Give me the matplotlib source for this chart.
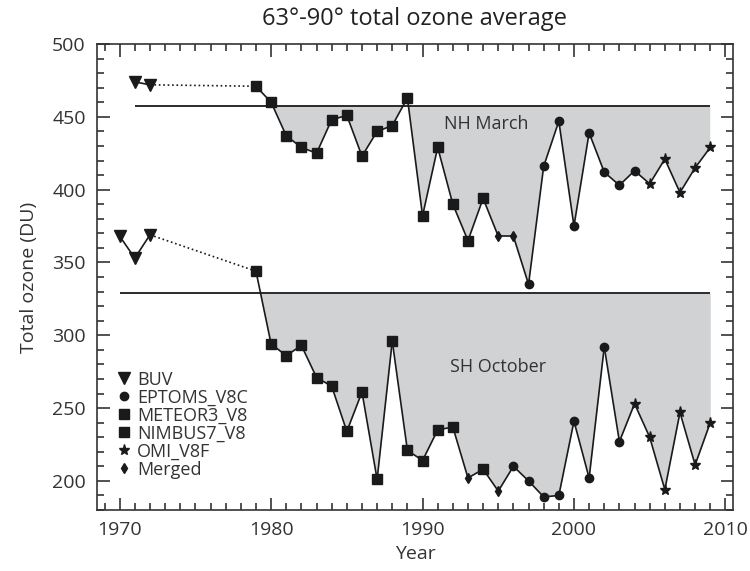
import numpy as np
import matplotlib
matplotlib.use('Agg')
from matplotlib import pyplot as plt
from matplotlib.ticker import MultipleLocator
from matplotlib.lines import Line2D

# NH March data
nh_years = [1971, 1972] + list(range(1979, 2010))
nh_vals = [474, 472,
           471, 460, 437, 429, 425, 448, 451, 423, 440, 444, 463,
           382, 429, 390, 365, 394, 368, 368, 335, 416, 447, 375,
           439, 412, 403, 413, 404, 421, 398, 415, 429]
nh_inst = ['B', 'B',
           'N', 'N', 'N', 'N', 'N', 'N', 'N', 'N', 'N', 'N', 'N',
           'N', 'N', 'N', 'N', 'M', 'D', 'D', 'E', 'E', 'E', 'E',
           'E', 'E', 'E', 'E', 'O', 'O', 'O', 'O', 'O']
nh_mean = 457.2

# SH October data
sh_years = [1970, 1971, 1972] + list(range(1979, 2010))
sh_vals = [368, 353, 369,
           344, 294, 286, 293, 271, 265, 234, 261, 201, 296, 221,
           214, 235, 237, 202, 208, 193, 210, 200, 189, 190, 241,
           202, 292, 227, 253, 230, 194, 247, 211, 240]
sh_inst = ['B', 'B', 'B',
           'N', 'N', 'N', 'N', 'N', 'N', 'N', 'N', 'N', 'N', 'N',
           'N', 'N', 'N', 'D', 'M', 'D', 'E', 'E', 'E', 'E', 'E',
           'E', 'E', 'E', 'O', 'O', 'O', 'O', 'O', 'O']
sh_mean = 328.8

# instrument -> (label, marker, size)
inst_style = {
    'B': ('BUV', 'v', 8),
    'E': ('EPTOMS_V8C', 'o', 6),
    'M': ('METEOR3_V8', 's', 7),
    'N': ('NIMBUS7_V8', 's', 7),
    'O': ('OMI_V8F', '*', 8),
    'D': ('Merged', 'd', 5),
}
legend_order = ['B', 'E', 'M', 'N', 'O', 'D']

plt.rcParams['font.family'] = ['Open Sans', 'DejaVu Sans']
fig = plt.figure(figsize=(7.5, 5.71), dpi=100)
ax = fig.add_axes([0.1293, 0.1068, 0.8480, 0.8161])

fill_col = '#d1d2d4'
line_col = '#1a1a1a'


def draw_series(years, vals, inst, mean):
    years = np.array(years)
    vals = np.array(vals, dtype=float)
    # shaded area below the mean (only the continuous part)
    sel = years >= 1979
    ax.fill_between(years[sel], vals[sel], mean, where=vals[sel] < mean,
                    interpolate=True, color=fill_col, lw=0, zorder=1)
    # mean line
    ax.hlines(mean, years[0], years[-1], color=line_col, lw=1.3, zorder=2)
    # solid for consecutive years, dotted across gaps
    for i in range(len(years) - 1):
        ls = '-' if years[i + 1] - years[i] == 1 else ':'
        ax.plot(years[i:i + 2], vals[i:i + 2], color=line_col, lw=1.2,
                ls=ls, zorder=3)
    for y, v, k in zip(years, vals, inst):
        lab, mk, ms = inst_style[k]
        ax.plot(y, v, marker=mk, ms=ms, color=line_col, ls='none', zorder=4)


draw_series(nh_years, nh_vals, nh_inst, nh_mean)
draw_series(sh_years, sh_vals, sh_inst, sh_mean)

ax.text(1994.2, 445, 'NH March', fontsize=13, color='#333333',
        ha='center', va='center', zorder=5)
ax.text(1995.0, 278, 'SH October', fontsize=13, color='#333333',
        ha='center', va='center', zorder=5)

# axes setup
ax.set_xlim(1968.5, 2010.5)
ax.set_ylim(180, 500)
ax.xaxis.set_major_locator(MultipleLocator(10))
ax.xaxis.set_minor_locator(MultipleLocator(1))
ax.yaxis.set_major_locator(MultipleLocator(50))
ax.yaxis.set_minor_locator(MultipleLocator(10))
ax.tick_params(which='both', direction='in', top=True, right=True,
               labelsize=14, colors='#333333', width=1.2)
ax.tick_params(which='major', length=9, pad=8)
ax.tick_params(which='minor', length=5)
for sp in ax.spines.values():
    sp.set_linewidth(1.2)
    sp.set_color('#333333')

ax.set_title('63°-90° total ozone average', fontsize=17, color='#222222', pad=14)
ax.set_xlabel('Year', fontsize=14, color='#333333', labelpad=4)
ax.set_ylabel('Total ozone (DU)', fontsize=14, color='#333333', labelpad=10)

# legend with markers only
handles = []
for k in legend_order:
    lab, mk, ms = inst_style[k]
    handles.append(Line2D([], [], marker=mk, ms=ms, color=line_col,
                          ls='none', label=lab))
ax.legend(handles=handles, loc='lower left', bbox_to_anchor=(0.012, 0.04),
          frameon=False, fontsize=13, handlelength=0.8, handletextpad=0.3,
          labelspacing=0.0, borderaxespad=0.3, labelcolor='#333333')

plt.savefig('out.png', dpi=100)
plt.close()
